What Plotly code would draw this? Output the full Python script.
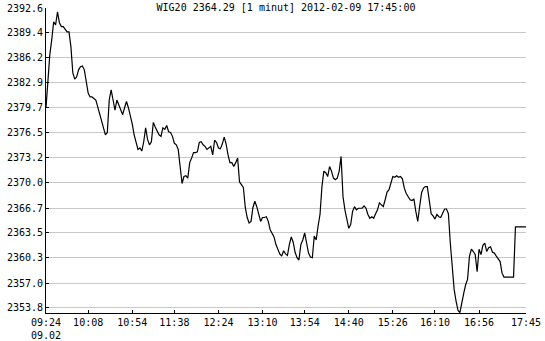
import pandas as pd
import plotly.graph_objects as go

title_text = "WIG20 2364.29 [1 minut] 2012-02-09 17:45:00"
session_date = "2012-02-09"
start_time = "09:24"
end_time = "17:45"

# 2-minute samples from 09:24 to 17:44, plus the last quote at 17:45
wig20 = [
    2379.7, 2382.9, 2386.6, 2388.5, 2390.8, 2390.4, 2392.1, 2390.7, 2390.2, 2390.2,
    2389.8, 2389.5, 2389.5, 2387.6, 2384.2, 2383.4, 2383.7, 2384.6, 2385.0, 2385.1,
    2384.6, 2383.3, 2381.6, 2381.1, 2381.1, 2380.9, 2380.7, 2379.8, 2378.8, 2377.9,
    2377.1, 2376.2, 2376.5, 2380.7, 2382.0, 2380.7, 2379.4, 2380.7, 2380.0, 2379.4,
    2378.8, 2379.7, 2380.5, 2379.7, 2378.8, 2377.6, 2376.2, 2375.3, 2374.3, 2374.5,
    2374.1, 2375.3, 2377.1, 2375.6, 2374.9, 2375.3, 2377.8, 2377.2, 2376.6, 2376.2,
    2376.0, 2377.1, 2376.9, 2377.4, 2376.6, 2376.5, 2376.0, 2375.1, 2374.9, 2374.3,
    2372.1, 2369.9, 2370.8, 2370.9, 2370.6, 2372.6, 2373.2, 2373.9, 2373.9, 2374.0,
    2375.2, 2375.3, 2374.9, 2374.7, 2374.3, 2374.5, 2374.7, 2373.6, 2375.5, 2375.2,
    2374.5, 2374.4, 2375.0, 2375.9, 2375.0, 2373.6, 2372.6, 2372.6, 2372.1, 2372.6,
    2373.2, 2370.1, 2369.7, 2369.4, 2366.8, 2365.5, 2364.8, 2365.0, 2366.8, 2367.6,
    2366.9, 2365.9, 2365.0, 2365.5, 2365.5, 2365.6, 2365.0, 2363.9, 2363.5, 2363.0,
    2362.0, 2361.4, 2360.8, 2360.5, 2361.2, 2360.8, 2360.6, 2362.0, 2363.0, 2362.3,
    2361.0, 2360.3, 2360.0, 2362.0, 2362.6, 2363.5, 2362.4, 2360.9, 2360.4, 2360.3,
    2363.1, 2362.6, 2364.4, 2365.9, 2369.5, 2371.5, 2371.3, 2370.8, 2372.1, 2371.5,
    2370.6, 2370.4, 2370.6, 2371.5, 2373.4, 2368.2, 2366.5, 2365.4, 2364.1, 2364.6,
    2366.3, 2366.9, 2366.5, 2366.7, 2366.7, 2366.7, 2367.0, 2366.7, 2365.9, 2365.4,
    2365.6, 2365.4, 2366.0, 2366.5, 2367.4, 2367.2, 2366.9, 2367.8, 2368.8, 2369.1,
    2370.0, 2370.8, 2370.7, 2370.9, 2370.7, 2370.8, 2370.5, 2369.3, 2368.6, 2368.2,
    2367.8, 2367.7, 2367.9, 2366.3, 2365.0, 2366.9, 2368.7, 2369.3, 2369.5, 2369.5,
    2368.0, 2366.0, 2365.7, 2365.3, 2365.9, 2365.6, 2365.5, 2366.1, 2366.6, 2366.6,
    2366.0, 2362.2, 2358.8, 2356.2, 2354.7, 2353.5, 2353.2, 2354.6, 2355.7, 2356.8,
    2357.5, 2360.5, 2361.4, 2361.1, 2360.7, 2358.5, 2361.4, 2360.7, 2361.9, 2362.2,
    2361.1, 2361.6, 2361.7, 2361.0, 2360.9, 2360.5, 2360.1, 2359.8, 2358.3, 2357.8,
    2357.8, 2357.8, 2357.8, 2357.8, 2357.8, 2364.29, 2364.29, 2364.29, 2364.29, 2364.29,
    2364.29, 2364.29,
]

times = list(pd.date_range(f"{session_date} {start_time}", f"{session_date} 17:44", freq="2min"))
times.append(pd.Timestamp(f"{session_date} {end_time}"))

x_tick_labels = ["09:24", "10:08", "10:54", "11:38", "12:24", "13:10",
                 "13:54", "14:40", "15:26", "16:10", "16:56", "17:45"]
first_tick_date = "09.02"
y_tick_labels = ["2392.6", "2389.4", "2386.2", "2382.9", "2379.7", "2376.5", "2373.2",
                 "2370.0", "2366.7", "2363.5", "2360.3", "2357.0", "2353.8"]

x_tickvals = [f"{session_date} {t}" for t in x_tick_labels]
x_ticktext = [f"{x_tick_labels[0]}<br>{first_tick_date}"] + x_tick_labels[1:]
y_tickvals = [float(t) for t in y_tick_labels]
y_range = [2353.15, 2392.6]

font_family = "DejaVu Sans Mono"
tick_font = dict(family=font_family, size=10, color="black")

fig = go.Figure()
# invisible helper trace so the grid-only axis is rendered
fig.add_trace(go.Scatter(x=[times[0]], y=[y_range[0]], yaxis="y2", mode="markers",
                         marker=dict(opacity=0), hoverinfo="skip", showlegend=False))
fig.add_trace(go.Scatter(x=times, y=wig20, mode="lines",
                         line=dict(color="black", width=1.2), hoverinfo="skip"))

fig.update_layout(
    width=545, height=341,
    margin=dict(l=46, r=19, t=8, b=28),
    paper_bgcolor="white", plot_bgcolor="white",
    showlegend=False,
    font=dict(family=font_family, size=10, color="black"),
    title=dict(
        text=title_text, x=0.5, xref="paper", xanchor="center",
        y=1 - 7 / 341, yref="container", yanchor="middle",
        font=dict(family=font_family, size=10, color="black"),
    ),
    xaxis=dict(
        type="date",
        range=[f"{session_date} {start_time}", f"{session_date} {end_time}"],
        tickmode="array", tickvals=x_tickvals, ticktext=x_ticktext,
        tickangle=0,
        showgrid=False, zeroline=False,
        showline=True, linecolor="black", linewidth=1,
        ticks="inside", ticklen=3, tickcolor="black", tickwidth=1,
        automargin=False, tickfont=tick_font,
    ),
    yaxis=dict(
        range=y_range,
        tickmode="array", tickvals=y_tickvals, ticktext=y_tick_labels,
        showgrid=False, zeroline=False,
        showline=True, linecolor="black", linewidth=1,
        ticks="inside", ticklen=3, tickcolor="black", tickwidth=1,
        automargin=False, tickfont=tick_font,
    ),
    # grid-only axis: horizontal lines at every tick but the top one
    yaxis2=dict(
        overlaying="y", side="left", range=y_range,
        tickmode="array", tickvals=y_tickvals[1:],
        showticklabels=False, ticks="",
        showgrid=True, gridcolor="#c8c8c8", gridwidth=1,
        showline=False, zeroline=False, automargin=False,
    ),
)

fig.write_html("out.html")
